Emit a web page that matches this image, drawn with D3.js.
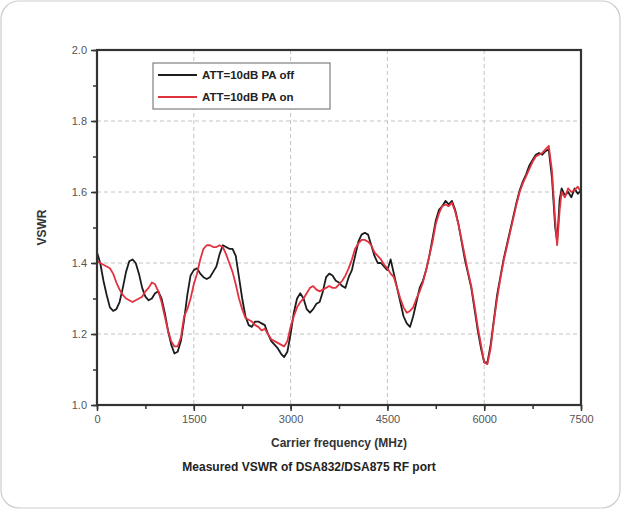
<!DOCTYPE html>
<html>
<head>
<meta charset="utf-8">
<script src="https://cdn.jsdelivr.net/npm/d3@7"></script>
<style>
  body { margin: 0; background: #fff; }
  svg { display: block; font-family: "Liberation Sans", Arial, sans-serif; }
</style>
</head>
<body>
<svg id="chart" width="621" height="509"></svg>
<script>
// carrier frequency points (MHz)
var freq = [0,50,100,150,200,250,300,350,400,450,500,550,600,650,700,750,800,850,900,950,
  1000,1050,1100,1150,1200,1250,1300,1350,1400,1450,1500,1550,1600,1650,1700,1750,1800,1850,1900,1950,
  2000,2050,2100,2150,2200,2250,2300,2350,2400,2450,2500,2550,2600,2650,2700,2750,2800,2850,2900,2950,
  3000,3050,3100,3150,3200,3250,3300,3350,3400,3450,3500,3550,3600,3650,3700,3750,3800,3850,3900,3950,
  4000,4050,4100,4150,4200,4250,4300,4350,4400,4450,4500,4550,4600,4650,4700,4750,4800,4850,4900,4950,
  5000,5050,5100,5150,5200,5250,5300,5350,5400,5450,5500,5550,5600,5650,5700,5750,5800,5850,5900,5950,
  6000,6050,6100,6150,6200,6250,6300,6350,6400,6450,6500,6550,6600,6650,6700,6750,6800,6850,6900,6950,
  7000,7050,7100,7130,7170,7200,7250,7300,7350,7400,7450,7500];

// ATT=10dB PA off
var vswrOff = [1.43,1.40,1.35,1.31,1.275,1.265,1.27,1.29,1.33,1.375,1.405,1.41,1.40,1.37,1.33,1.305,1.295,1.30,1.315,1.32,
  1.30,1.26,1.21,1.17,1.145,1.15,1.18,1.24,1.31,1.365,1.38,1.385,1.37,1.36,1.355,1.36,1.375,1.39,1.425,1.45,
  1.445,1.44,1.44,1.42,1.36,1.30,1.25,1.225,1.22,1.235,1.235,1.23,1.225,1.20,1.18,1.17,1.16,1.145,1.135,1.15,
  1.20,1.26,1.30,1.315,1.30,1.27,1.26,1.27,1.285,1.29,1.32,1.36,1.37,1.365,1.35,1.345,1.335,1.33,1.36,1.38,
  1.42,1.46,1.48,1.485,1.48,1.45,1.42,1.40,1.40,1.39,1.38,1.41,1.37,1.33,1.29,1.25,1.23,1.22,1.25,1.29,
  1.33,1.35,1.38,1.42,1.47,1.52,1.55,1.56,1.575,1.565,1.575,1.55,1.51,1.46,1.41,1.37,1.33,1.27,1.21,1.16,
  1.12,1.12,1.17,1.24,1.31,1.36,1.41,1.45,1.49,1.53,1.57,1.605,1.63,1.65,1.675,1.69,1.705,1.71,1.705,1.715,
  1.72,1.64,1.50,1.46,1.58,1.61,1.59,1.60,1.585,1.61,1.595,1.605];

// ATT=10dB PA on
var vswrOn = [1.405,1.40,1.395,1.39,1.385,1.37,1.345,1.325,1.31,1.30,1.295,1.29,1.295,1.30,1.305,1.32,1.33,1.345,1.34,1.32,
  1.29,1.25,1.21,1.18,1.165,1.165,1.19,1.25,1.27,1.30,1.34,1.37,1.41,1.44,1.45,1.45,1.445,1.445,1.45,1.445,
  1.425,1.40,1.375,1.34,1.30,1.27,1.245,1.24,1.235,1.225,1.22,1.21,1.215,1.20,1.185,1.18,1.175,1.17,1.165,1.18,
  1.22,1.25,1.275,1.29,1.30,1.315,1.33,1.335,1.325,1.32,1.325,1.33,1.335,1.33,1.33,1.34,1.35,1.365,1.385,1.41,
  1.44,1.455,1.465,1.465,1.46,1.45,1.43,1.42,1.41,1.395,1.385,1.37,1.36,1.33,1.30,1.275,1.26,1.265,1.275,1.30,
  1.32,1.345,1.38,1.42,1.46,1.51,1.54,1.56,1.565,1.56,1.57,1.545,1.51,1.465,1.42,1.375,1.335,1.28,1.22,1.17,
  1.12,1.115,1.16,1.235,1.30,1.355,1.405,1.445,1.485,1.525,1.565,1.60,1.625,1.645,1.665,1.685,1.70,1.705,1.71,1.72,
  1.73,1.66,1.52,1.45,1.55,1.60,1.585,1.61,1.60,1.605,1.615,1.60];

var seriesNames = ["ATT=10dB PA off", "ATT=10dB PA on"];
var seriesColors = ["#1c1c1c", "#e2323f"];
var xTicks = [0, 1500, 3000, 4500, 6000, 7500];
var yTicks = [1.0, 1.2, 1.4, 1.6, 1.8, 2.0];

var svg = d3.select("#chart");

// card outline
svg.append("rect")
  .attr("x", 1).attr("y", 1).attr("width", 619).attr("height", 507)
  .attr("rx", 18).attr("ry", 18)
  .attr("fill", "#fff").attr("stroke", "#c9cdd2").attr("stroke-width", 1.2);

var pL = 97, pR = 581, pT = 50, pB = 405;
var x = d3.scaleLinear().domain([0, 7500]).range([pL, pR]);
var y = d3.scaleLinear().domain([1.0, 2.0]).range([pB, pT]);

// grid
var grid = svg.append("g").attr("stroke", "#c4c4c4").attr("stroke-width", 1).attr("stroke-dasharray", "4,3");
grid.selectAll(".gx").data(xTicks.slice(1, -1)).enter().append("line")
  .attr("x1", d => x(d)).attr("x2", d => x(d)).attr("y1", pT).attr("y2", pB);
grid.selectAll(".gy").data(yTicks.slice(1, -1)).enter().append("line")
  .attr("x1", pL).attr("x2", pR).attr("y1", d => y(d)).attr("y2", d => y(d));

// lines
var line = d3.line().x(d => x(d[0])).y(d => y(d[1]));
[vswrOff, vswrOn].forEach(function (vals, i) {
  svg.append("path")
    .datum(freq.map((f, j) => [f, vals[j]]))
    .attr("fill", "none")
    .attr("stroke", seriesColors[i])
    .attr("stroke-width", 1.8)
    .attr("stroke-linejoin", "round")
    .attr("d", line);
});

// axes
var minorX = d3.range(0, 7501, 750);
var minorY = d3.range(1.0, 2.001, 0.1);

var xAxis = svg.append("g").attr("transform", "translate(0," + pB + ")")
  .call(d3.axisBottom(x).tickValues(minorX).tickSize(4).tickFormat(""));
var xAxisMajor = svg.append("g").attr("transform", "translate(0," + pB + ")")
  .call(d3.axisBottom(x).tickValues(xTicks).tickSize(6).tickPadding(4).tickFormat(d3.format("d")));
var yAxis = svg.append("g").attr("transform", "translate(" + pL + ",0)")
  .call(d3.axisLeft(y).tickValues(minorY).tickSize(4).tickFormat(""));
var yAxisMajor = svg.append("g").attr("transform", "translate(" + pL + ",0)")
  .call(d3.axisLeft(y).tickValues(yTicks).tickSize(6).tickPadding(4).tickFormat(d3.format(".1f")));

[xAxis, xAxisMajor, yAxis, yAxisMajor].forEach(function (g) {
  g.select(".domain").remove();
  g.selectAll(".tick line").attr("stroke", "#333").attr("stroke-width", 1.5);
  g.selectAll(".tick text").attr("fill", "#555").style("font-size", "11px");
});

// frame
svg.append("rect")
  .attr("x", pL).attr("y", pT).attr("width", pR - pL).attr("height", pB - pT)
  .attr("fill", "none").attr("stroke", "#333").attr("stroke-width", 2.2);

// axis titles
svg.append("text")
  .attr("transform", "translate(46," + ((pT + pB) / 2) + ") rotate(-90)")
  .attr("text-anchor", "middle").attr("fill", "#333")
  .style("font-size", "12px").style("font-weight", "bold")
  .text("VSWR");
svg.append("text")
  .attr("x", (pL + pR) / 2).attr("y", 447)
  .attr("text-anchor", "middle").attr("fill", "#333")
  .style("font-size", "12px").style("font-weight", "bold")
  .text("Carrier frequency (MHz)");
svg.append("text")
  .attr("x", 309).attr("y", 471)
  .attr("text-anchor", "middle").attr("fill", "#222")
  .style("font-size", "12px").style("font-weight", "bold")
  .text("Measured VSWR of DSA832/DSA875 RF port");

// legend
var legend = svg.append("g").attr("transform", "translate(153,63)");
legend.append("rect")
  .attr("width", 177).attr("height", 46)
  .attr("fill", "#fff").attr("stroke", "#666").attr("stroke-width", 1);
seriesNames.forEach(function (name, i) {
  var ly = 12 + i * 22;
  legend.append("line")
    .attr("x1", 5).attr("x2", 44).attr("y1", ly).attr("y2", ly)
    .attr("stroke", seriesColors[i]).attr("stroke-width", 1.8);
  legend.append("text")
    .attr("x", 49).attr("y", ly + 4)
    .attr("fill", "#222").style("font-size", "11.5px").style("font-weight", "bold")
    .text(name);
});
</script>
</body>
</html>
